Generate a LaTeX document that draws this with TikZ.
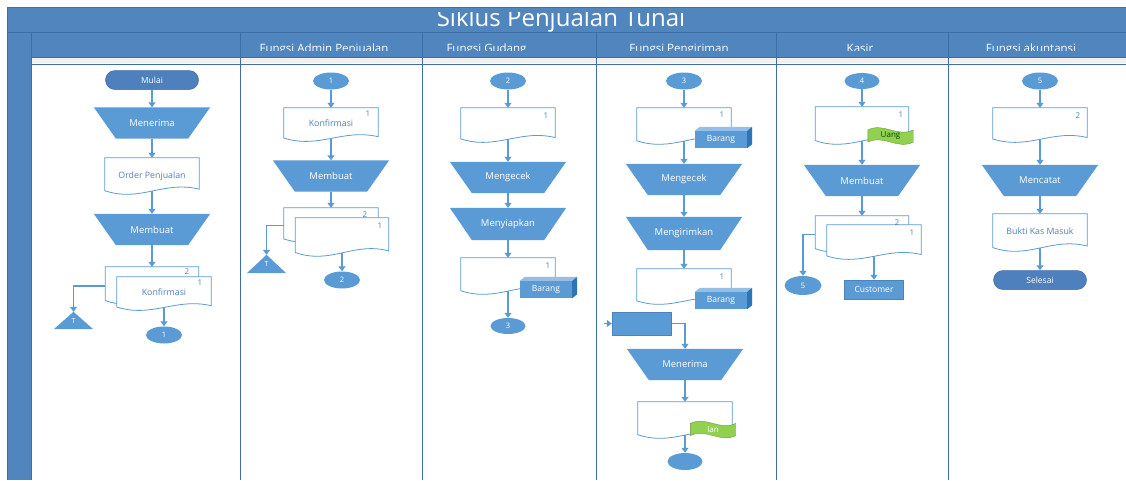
\documentclass[tikz,border=0pt]{standalone}
\usepackage{fontspec}
\setmainfont{Open Sans}
\usetikzlibrary{calc,shapes.geometric,shapes.misc,arrows.meta}
\definecolor{band}{RGB}{80,134,189}
\definecolor{bandline}{RGB}{62,110,166}
\definecolor{shp}{RGB}{91,155,213}
\definecolor{termc}{RGB}{77,128,188}
\definecolor{lnc}{RGB}{91,155,213}
\definecolor{doct}{RGB}{79,129,189}
\definecolor{grn}{RGB}{146,208,80}
\definecolor{boxtop}{RGB}{150,190,230}
\definecolor{boxside}{RGB}{46,117,182}
\pgfdeclarelayer{frame}
\pgfdeclarelayer{lines}
\pgfdeclarelayer{bg}
\pgfsetlayers{frame,lines,bg,main}
\newcommand\trapdraw[1]{\path[fill=shp] let \p1=(#1.north west),\p2=(#1.south east),\n1={0.19*(\x2-\x1)} in (\x1,\y1) -- (\x2,\y1) -- (\x2-\n1,\y2) -- (\x1+\n1,\y2) -- cycle;}
\newcommand\docdraw[1]{\path[draw=lnc,line width=0.8pt,fill=white] let \p1=(#1.north west),\p2=(#1.south east),\n1={\y1-\y2},\n2={\x2-\x1} in (\x1,\y2+0.12*\n1) -- (\x1,\y1) -- (\x2,\y1) -- (\x2,\y2+0.16*\n1) .. controls (\x1+0.62*\n2,\y2+0.4*\n1) and (\x1+0.38*\n2,\y2-0.2*\n1) .. (\x1,\y2+0.12*\n1) -- cycle;}
\newcommand\boxdraw[1]{%
  \fill[boxtop] (#1.north west) -- ++(5pt,4pt) -- ([shift={(5pt,4pt)}]#1.north east) -- (#1.north east) -- cycle;
  \fill[boxside] (#1.north east) -- ++(5pt,4pt) -- ([shift={(5pt,4pt)}]#1.south east) -- (#1.south east) -- cycle;
  \fill[shp] (#1.north west) rectangle (#1.south east);}
\newcommand\flagdraw[1]{\path[fill=grn,draw=grn!75!black,line width=0.4pt] let \p1=(#1.north west),\p2=(#1.south east),\n1={\y1-\y2},\n2={\x2-\x1} in (\x1,\y1-0.15*\n1) .. controls (\x1+0.35*\n2,\y1+0.3*\n1) and (\x1+0.65*\n2,\y1-0.6*\n1) .. (\x2,\y1-0.15*\n1) -- (\x2,\y2+0.15*\n1) .. controls (\x1+0.65*\n2,\y2-0.3*\n1) and (\x1+0.35*\n2,\y1-0.4*\n1) .. (\x1,\y2+0.15*\n1) -- cycle;}
\newcommand\tridraw[1]{\fill[shp] (#1.south west) -- (#1.south east) -- (#1.north) -- cycle;}
\begin{document}
\begin{tikzpicture}[x=1pt,y=-1pt,
  conn/.style={draw=lnc,line width=1.2pt,-{Triangle[length=5pt,width=7pt]}},
  term/.style={rounded rectangle,fill=termc,draw=bandline,line width=0.5pt,text=white,minimum width=93pt,minimum height=19pt,inner sep=0pt,font=\fontsize{8.5}{9}\selectfont},
  offp/.style={ellipse,fill=shp,text=white,minimum width=36pt,minimum height=17pt,inner sep=0pt,font=\fontsize{7.5}{8}\selectfont},
  trapn/.style={minimum width=116pt,minimum height=31pt,inner sep=0pt,text=white,font=\fontsize{9.5}{10}\selectfont},
  docn/.style={minimum width=94pt,minimum height=36pt,inner sep=0pt,text=doct,font=\fontsize{8.8}{9}\selectfont},
  numl/.style={text=doct,font=\fontsize{8}{8}\selectfont,inner sep=0pt},
  boxn/.style={minimum width=52pt,minimum height=17pt,inner sep=0pt,text=white,font=\fontsize{8.5}{8}\selectfont},
  flagn/.style={minimum width=45pt,minimum height=17pt,inner sep=0pt,font=\fontsize{8}{8}\selectfont},
  trin/.style={minimum width=39pt,minimum height=17pt,inner sep=0pt,text=white,font=\fontsize{7}{7}\selectfont},
  rectn/.style={fill=shp,draw=shp!85!black,line width=0.4pt,inner sep=0pt,text=white,font=\fontsize{8.5}{9}\selectfont},
  hdr/.style={text=white,anchor=base,inner sep=0pt,font=\fontsize{11.5}{12}\selectfont}]
\useasboundingbox (0,0) rectangle (1126,480);
% ---------------- frame ----------------
\begin{pgfonlayer}{frame}
\fill[white] (0,0) rectangle (1126,480);
\fill[band] (7,7) rectangle (1126,32);
\draw[bandline,line width=0.6pt] (7,7) -- (1126,7);
\fill[band] (7,32) rectangle (31,480);
\fill[band] (31,32) rectangle (1126,57);
\fill[gray!12] (31,57) rectangle (1126,63);
\draw[bandline,line width=0.8pt] (7,32) -- (1126,32);
\draw[bandline,line width=0.8pt] (31,57) -- (1126,57);
\draw[bandline,line width=0.8pt] (31,64) -- (1126,64);
\draw[bandline,line width=0.6pt] (7,7) -- (7,480);
\foreach \lx in {31,240,422,596,776,948}{\draw[bandline,line width=1pt] (\lx,32) -- (\lx,480);}
\begin{scope}
\clip (7,12.5) rectangle (1126,32);
\node[text=white,anchor=base,inner sep=0pt,font=\fontsize{24}{26}\selectfont] (title) at (561,26) {Siklus Penjualan Tunai};
\end{scope}
\begin{scope}
\clip (31,33) rectangle (1126,50.5);
\node[hdr] (h1) at (324,52) {Fungsi Admin Penjualan};
\node[hdr] (h2) at (486.5,52) {Fungsi Gudang};
\node[hdr] (h3) at (679,52) {Fungsi Pengiriman};
\node[hdr] (h4) at (860,52) {Kasir};
\node[hdr] (h5) at (1031,52) {Fungsi akuntansi};
\end{scope}
\end{pgfonlayer}
% ---------------- lane 1 ----------------
\node[term] (mulai) at (152,80) {Mulai};
\node[trapn] (men1) at (152,123) {Menerima};
\node[docn,minimum height=37pt] (ord) at (152,176.5) {\raisebox{3pt}{Order Penjualan}};
\node[trapn] (mem1) at (152,229.5) {Membuat};
\node[docn,minimum height=38pt,minimum width=93pt] (kb1) at (152,286) {};
\node[docn,minimum height=34pt] (kf1) at (164,294) {\raisebox{3pt}{Konfirmasi}};
\node[numl] (kb1n) at (187,272) {2};
\node[numl] (kf1n) at (200,283) {1};
\node[trin] (tri1) at (73.5,320.5) {\raisebox{-4pt}{T}};
\node[offp] (c1) at (164,335) {1};
% ---------------- lane 2 ----------------
\node[offp] (c1b) at (331,81) {1};
\node[docn,minimum height=34pt] (kon2) at (331,125) {\raisebox{3pt}{Konfirmasi}};
\node[numl] (kon2n) at (368,114) {1};
\node[trapn] (mem2) at (331,176) {Membuat};
\node[docn,minimum height=35pt] (kb2) at (331,225.5) {};
\node[docn,minimum height=39pt,minimum width=93pt] (kf2) at (342,237.5) {};
\node[numl] (kb2n) at (365,215) {2};
\node[numl] (kf2n) at (380,226) {1};
\node[trin,minimum height=18pt] (tri2) at (266.5,264) {\raisebox{-4pt}{T}};
\node[offp] (c2) at (342,280) {2};
% ---------------- lane 3 ----------------
\node[offp] (c2b) at (508,81) {2};
\node[docn,minimum height=35pt] (d3a) at (508,125.5) {};
\node[numl] (d3an) at (546,116) {1};
\node[trapn] (chk3) at (508,177.5) {Mengecek};
\node[trapn,minimum height=32pt] (prep) at (508,224) {Menyiapkan};
\node[docn,minimum height=37pt] (d3b) at (508,276.5) {};
\node[numl] (d3bn) at (548,266) {1};
\node[boxn] (box3) at (546,289.5) {Barang};
\node[offp,minimum width=35pt,minimum height=16pt] (c3) at (508,326) {3};
% ---------------- lane 4 ----------------
\node[offp] (c3b) at (684,81) {3};
\node[docn,minimum height=37pt] (d4a) at (684,126.5) {};
\node[numl] (d4an) at (722,115) {1};
\node[boxn] (box4a) at (721,139.5) {Barang};
\node[trapn] (chk4) at (684,179.5) {Mengecek};
\node[trapn,minimum height=33pt] (ship) at (684,233.5) {Mengirimkan};
\node[docn,minimum height=36pt] (d4b) at (684,287) {};
\node[numl] (d4bn) at (722,277) {1};
\node[boxn] (box4b) at (721,300.5) {Barang};
\node[rectn,minimum width=59pt,minimum height=23pt] (rin) at (641.5,323.5) {};
\coordinate (ain) at (604,323.5);
\node[trapn] (rec4) at (685,364.5) {Menerima};
\node[docn,minimum height=37pt] (d4c) at (685,420.5) {};
\node[flagn,text=white] (flag4) at (713,429.5) {lan};
\node[offp,minimum width=35pt] (e4) at (685,461.5) {};
% ---------------- lane 5 ----------------
\node[offp,minimum width=35pt,minimum height=16pt] (c4) at (862,81) {4};
\node[docn,minimum height=38pt,minimum width=93pt] (d5a) at (862,126) {};
\node[numl] (d5an) at (901,115) {1};
\node[flagn,text=green!30!black] (flag5) at (890.5,136) {Uang};
\node[trapn] (mem5) at (862,180.5) {Membuat};
\node[docn,minimum height=37pt,minimum width=93pt] (kb5) at (862,234.5) {};
\node[docn,minimum height=35pt] (kf5) at (874,242.5) {};
\node[numl] (kb5n) at (897,223) {2};
\node[numl] (kf5n) at (912,233) {1};
\node[offp,minimum width=37pt,minimum height=19pt] (c5) at (803,285.5) {5};
\node[rectn,minimum width=59pt,minimum height=19pt] (cust) at (874,289.5) {Customer};
% ---------------- lane 6 ----------------
\node[offp] (c5b) at (1040,81) {5};
\node[docn,minimum height=35pt] (d6a) at (1040,125.5) {};
\node[numl] (d6an) at (1078,116) {2};
\node[trapn] (cat) at (1040,180.5) {Mencatat};
\node[docn,minimum height=38pt] (bkm) at (1040,233) {\raisebox{3pt}{Bukti Kas Masuk}};
\node[term] (sel) at (1040,280) {Selesai};
% ---------------- shapes ----------------
\begin{pgfonlayer}{bg}
\trapdraw{men1}\trapdraw{mem1}\trapdraw{mem2}\trapdraw{chk3}\trapdraw{prep}
\trapdraw{chk4}\trapdraw{ship}\trapdraw{rec4}\trapdraw{mem5}\trapdraw{cat}
\docdraw{ord}\docdraw{kb1}\docdraw{kf1}\tridraw{tri1}
\docdraw{kon2}\docdraw{kb2}\docdraw{kf2}\tridraw{tri2}
\docdraw{d3a}\docdraw{d3b}\boxdraw{box3}
\docdraw{d4a}\boxdraw{box4a}\docdraw{d4b}\boxdraw{box4b}
\docdraw{d4c}\flagdraw{flag4}
\docdraw{d5a}\flagdraw{flag5}\docdraw{kb5}\docdraw{kf5}
\docdraw{d6a}\docdraw{bkm}
\end{pgfonlayer}
% ---------------- connectors ----------------
\begin{pgfonlayer}{lines}
\draw[conn] (mulai.south) -- (men1.north);
\draw[conn] (men1.south) -- (ord.north);
\draw[conn] (ord.center) -- (mem1.north);
\draw[conn] (mem1.south) -- (kb1.north);
\draw[conn] (kb1.west) -| (tri1.north);
\draw[conn] (kf1.center) -- (c1.north);
\draw[conn] (c1b.south) -- (kon2.north);
\draw[conn] (kon2.center) -- (mem2.north);
\draw[conn] (mem2.south) -- (kb2.north);
\draw[conn] (kb2.west) -| (tri2.north);
\draw[conn] (kf2.center) -- (c2.north);
\draw[conn] (c2b.south) -- (d3a.north);
\draw[conn] (d3a.center) -- (chk3.north);
\draw[conn] (chk3.south) -- (prep.north);
\draw[conn] (prep.south) -- (d3b.north);
\draw[conn] (d3b.center) -- (c3.north);
\draw[conn] (c3b.south) -- (d4a.north);
\draw[conn] (d4a.center) -- (chk4.north);
\draw[conn] (chk4.south) -- (ship.north);
\draw[conn] (ship.south) -- (d4b.north);
\draw[conn] (ain) -- (rin.west);
\draw[conn] (rin.east) -| (rec4.north);
\draw[conn] (rec4.south) -- (d4c.north);
\draw[conn] (d4c.center) -- (e4.north);
\draw[conn] (c4.south) -- (d5a.north);
\draw[conn] (d5a.center) -- (mem5.north);
\draw[conn] (mem5.south) -- (kb5.north);
\draw[conn] (kb5.west) -| (c5.north);
\draw[conn] (kf5.center) -- (cust.north);
\draw[conn] (c5b.south) -- (d6a.north);
\draw[conn] (d6a.center) -- (cat.north);
\draw[conn] (cat.south) -- (bkm.north);
\draw[conn] (bkm.center) -- (sel.north);
\end{pgfonlayer}
\end{tikzpicture}
\end{document}
